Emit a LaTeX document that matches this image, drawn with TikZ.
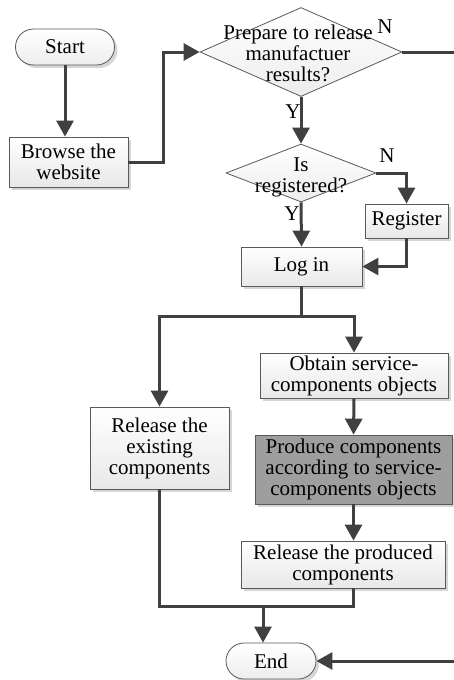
\documentclass[tikz,border=0pt]{standalone}
\usepackage{fontspec}
\setmainfont{Liberation Serif}
\usetikzlibrary{arrows.meta,shapes.geometric,shapes.misc,shadows}
\tikzset{
  shd/.style={drop shadow={shadow xshift=3pt,shadow yshift=-3pt,fill=black!16,opacity=1}},
  bx/.style={rectangle,draw=black!65,line width=.8pt,top color=white,bottom color=black!9,
    inner sep=0pt,align=center,font=\fontsize{21}{21}\selectfont,shd},
  bxd/.style={bx,top color=black!38,bottom color=black!38},
  term/.style={rounded rectangle,draw=black!65,line width=.8pt,top color=white,bottom color=black!7,
    inner sep=0pt,font=\fontsize{21}{21}\selectfont,shd},
  dec/.style={diamond,draw=black!65,line width=.8pt,top color=white,bottom color=black!7,inner sep=0pt},
  dtx/.style={align=center,inner sep=0pt,font=\fontsize{21}{21}\selectfont},
  yn/.style={inner sep=0pt,font=\fontsize{21}{21}\selectfont},
  ln/.style={draw=black!75,line width=3pt},
  arr/.style={ln,-{Triangle[length=16pt,width=17pt]}},
}
\begin{document}
\begin{tikzpicture}[x=1pt,y=-1pt]
\useasboundingbox (0,0) rectangle (453,680);
% boxes, top to bottom
\node[term,minimum width=99pt,minimum height=36pt] (start) at (65,47) {Start};
\node[bx,minimum width=119pt,minimum height=50pt] (browse) at (68.5,162) {Browse the\\ website};
\node[dec,minimum width=202pt,minimum height=89pt] (d1) at (301,52) {};
\node[dtx] (d1t) at (298,53) {Prepare to release\\ manufactuer\\ results?};
\node[dec,minimum width=150pt,minimum height=58pt] (d2) at (301,173) {};
\node[dtx] (d2t) at (301,177) {Is\\ registered?};
\node[bx,minimum width=83pt,minimum height=34pt] (reg) at (406.5,221) {Register};
\node[bx,minimum width=121pt,minimum height=39pt] (login) at (301.5,266.5) {Log in};
\node[bx,minimum width=139pt,minimum height=82pt] (rel1) at (159.5,448) {Release the\\ existing\\ components};
\node[bx,minimum width=188pt,minimum height=45pt] (obt) at (354,375.5) {Obtain service-\\ components objects};
\node[bxd,minimum width=197pt,minimum height=69pt] (prod) at (353.5,469.5) {Produce components\\ according to service-\\ components objects};
\node[bx,minimum width=204pt,minimum height=47pt] (rel2) at (343,564.5) {Release the produced\\ components};
\node[term,minimum width=90pt,minimum height=36pt] (endn) at (271,661) {End};
% labels
\node[yn] (n1) at (385,27) {N};
\node[yn] (y1) at (293,112) {Y};
\node[yn] (n2) at (387,156) {N};
\node[yn] (y2) at (292,214) {Y};
% joints
\coordinate (bj) at (163,0);
\coordinate (rc) at (458,52);
\coordinate (sp) at (301.5,316);
\coordinate (mj) at (263,606);
% connectors
\draw[arr] (start.south) -- (start.south |- browse.north);
\draw[arr] (browse.east) -- (browse.east -| bj) |- (d1.west);
\draw[arr] (d1.south) -- (d2.north);
\draw[arr] (d1.east) -- (rc) |- (endn.east);
\draw[arr] (d2.east) -| (reg.north);
\draw[arr] (d2.south) -- (login.north);
\draw[arr] (reg.south) |- (login.east);
\draw[ln] (login.south) -- (sp);
\draw[arr] (sp) -| (rel1.north);
\draw[arr] (sp) -| (obt.north);
\draw[arr] (obt.south) -- (prod.north);
\draw[arr] (prod.south) -- (prod.south |- rel2.north);
\draw[ln] (rel1.south) |- (mj);
\draw[ln] (prod.south |- rel2.south) |- (mj);
\draw[arr] (mj) -- (mj |- endn.north);
\end{tikzpicture}
\end{document}
